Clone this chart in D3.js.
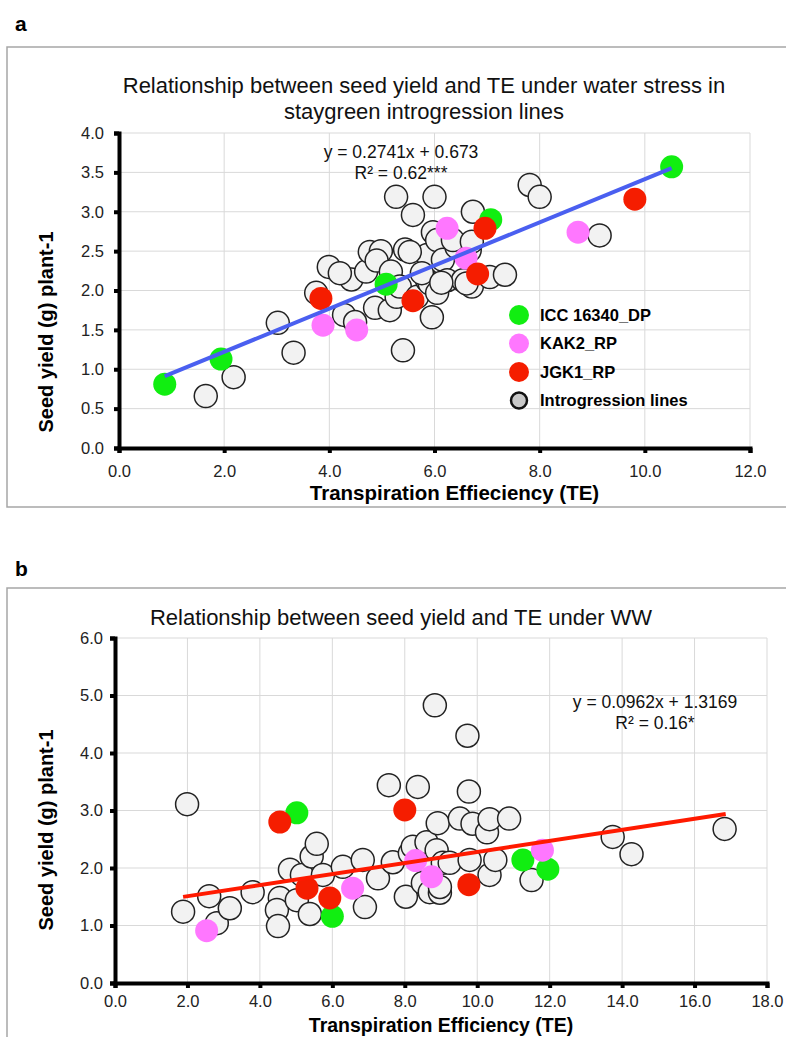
<!DOCTYPE html>
<html>
<head>
<meta charset="utf-8">
<script src="https://cdn.jsdelivr.net/npm/d3@7"></script>
<style>
  body { margin: 0; background: #fff; }
  svg { display: block; font-family: "Liberation Sans", Arial, sans-serif; }
  .grid line { stroke: #d9d9d9; stroke-width: 1; }
  .axis path { stroke: #000; stroke-width: 4; }
  .axis line { stroke: #000; stroke-width: 4; }
  .axis text { font-size: 16.5px; fill: #222; }
</style>
</head>
<body>
<div id="chart"></div>
<script>
// ---- panel a: water stress ----
const stressTicksX = [0, 2, 4, 6, 8, 10, 12];
const stressTicksY = [0, 0.5, 1, 1.5, 2, 2.5, 3, 3.5, 4];
const stressIntro = [
  [1.65, 0.66], [2.18, 0.9], [3.02, 1.59], [3.32, 1.21], [3.75, 1.97], [3.99, 2.3],
  [4.28, 1.69], [4.49, 1.6], [4.42, 2.14], [4.2, 2.22], [4.7, 2.24], [4.77, 2.49],
  [4.98, 2.5], [4.9, 2.38], [5.17, 2.24], [4.87, 1.78], [5.15, 1.75], [5.28, 1.92],
  [5.34, 2.05], [5.44, 2.52], [5.27, 3.19], [5.59, 2.96], [6.0, 3.19], [5.67, 1.92],
  [5.86, 2.13], [5.86, 2.45], [5.91, 2.09], [5.95, 1.66], [5.97, 2.74], [6.05, 2.64],
  [6.05, 1.97], [6.16, 2.39], [6.24, 2.13], [6.42, 2.55], [6.54, 2.13], [6.67, 2.51],
  [6.71, 2.05], [6.73, 3.0], [7.05, 2.17], [7.34, 2.2], [5.4, 1.24], [5.53, 2.49],
  [5.76, 2.22], [6.13, 2.1], [6.35, 2.64], [6.61, 2.09], [6.71, 2.62], [7.81, 3.34],
  [8.0, 3.19], [9.14, 2.7]
];
const stressDonor = [[0.87, 0.81], [1.94, 1.13], [5.08, 2.08], [7.07, 2.9], [10.51, 3.57]];
const stressKAK2 = [[3.88, 1.56], [4.52, 1.5], [6.24, 2.79], [6.6, 2.41], [8.73, 2.74]];
const stressJGK1 = [[3.84, 1.9], [5.59, 1.87], [6.82, 2.21], [6.96, 2.79], [9.81, 3.16]];
const stressFit = { slope: 0.2741, intercept: 0.673, from: 0.87, to: 10.51 };
const stressEq = ["y = 0.2741x + 0.673", "R\u00b2 = 0.62***"];

// ---- panel b: well watered ----
const wwTicksX = [0, 2, 4, 6, 8, 10, 12, 14, 16, 18];
const wwTicksY = [0, 1, 2, 3, 4, 5, 6];
const wwIntro = [
  [1.88, 1.24], [1.99, 3.11], [2.6, 1.51], [2.81, 1.04], [3.17, 1.3], [3.8, 1.58],
  [4.55, 1.48], [4.47, 1.27], [4.5, 0.99], [4.83, 1.97], [5.02, 1.44], [5.16, 1.88],
  [5.43, 2.2], [5.57, 2.42], [5.38, 1.2], [5.74, 1.88], [6.29, 2.02], [6.84, 2.14],
  [6.9, 1.32], [7.26, 1.82], [7.56, 3.44], [7.67, 2.1], [8.03, 1.5], [8.14, 2.26],
  [8.22, 2.37], [8.36, 3.41], [8.47, 2.14], [8.5, 1.74], [8.6, 2.45], [8.69, 1.58],
  [8.83, 4.83], [8.88, 2.31], [8.91, 2.78], [8.97, 1.57], [8.97, 1.67], [9.05, 2.09],
  [9.24, 2.09], [9.52, 2.86], [9.73, 4.3], [9.77, 3.33], [9.79, 2.14], [9.87, 2.77],
  [10.27, 2.62], [10.34, 2.85], [10.34, 1.88], [10.5, 2.14], [10.88, 2.86], [11.5, 1.79],
  [13.74, 2.54], [14.26, 2.24], [16.83, 2.68]
];
const wwDonor = [[5.02, 2.96], [6.0, 1.16], [11.26, 2.14], [11.95, 1.98]];
const wwKAK2 = [[2.53, 0.91], [6.56, 1.65], [8.3, 2.13], [8.74, 1.85], [11.8, 2.31]];
const wwJGK1 = [[4.55, 2.8], [5.3, 1.65], [5.93, 1.48], [8.0, 3.01], [9.77, 1.71]];
const wwFit = { slope: 0.0962, intercept: 1.3169, from: 1.88, to: 16.86 };
const wwEq = ["y = 0.0962x + 1.3169", "R\u00b2 = 0.16*"];

const legendNames = ["ICC 16340_DP", "KAK2_RP", "JGK1_RP", "Introgression lines"];

const svg = d3.select("#chart").append("svg")
  .attr("width", 786)
  .attr("height", 1037);

const markStyles = {
  intro: { fill: "#f2f2f2", stroke: "#222", width: 1.5 },
  donor: { fill: "#11ee11", stroke: "none", width: 0 },
  kak2: { fill: "#ff77ff", stroke: "none", width: 0 },
  jgk1: { fill: "#f51d00", stroke: "none", width: 0 },
};

function drawPanel(opts) {
  const g = svg.append("g");

  // frame
  g.append("rect")
    .attr("x", 7).attr("y", opts.frameTop)
    .attr("width", 790).attr("height", opts.frameHeight)
    .attr("fill", "none").attr("stroke", "#a6a6a6").attr("stroke-width", 1.5);

  g.append("text")
    .attr("x", 15).attr("y", opts.labelY)
    .style("font-size", "21px").style("font-weight", "bold")
    .text(opts.label);

  const x = d3.scaleLinear().domain(opts.xDomain).range([opts.left, opts.right]);
  const y = d3.scaleLinear().domain(opts.yDomain).range([opts.bottom, opts.top]);

  // gridlines
  const grid = g.append("g").attr("class", "grid");
  grid.selectAll("line.v").data(opts.ticksX.slice(1)).join("line")
    .attr("class", "v")
    .attr("x1", d => x(d)).attr("x2", d => x(d))
    .attr("y1", opts.top).attr("y2", opts.bottom);
  grid.selectAll("line.h").data(opts.ticksY.slice(1)).join("line")
    .attr("class", "h")
    .attr("y1", d => y(d)).attr("y2", d => y(d))
    .attr("x1", opts.left).attr("x2", opts.right);

  // axes
  g.append("g")
    .attr("class", "axis")
    .attr("transform", `translate(0,${opts.bottom})`)
    .call(d3.axisBottom(x).tickValues(opts.ticksX).tickFormat(d3.format(".1f")).tickSize(5).tickSizeOuter(5).tickPadding(opts.xPad));
  g.append("g")
    .attr("class", "axis")
    .attr("transform", `translate(${opts.left},0)`)
    .call(d3.axisLeft(y).tickValues(opts.ticksY).tickFormat(d3.format(".1f")).tickSize(5).tickSizeOuter(5).tickPadding(opts.yPad));

  // titles
  g.append("g").selectAll("text").data(opts.title).join("text")
    .attr("x", opts.titleX)
    .attr("y", (d, i) => opts.titleY + i * 26)
    .attr("text-anchor", "middle")
    .style("font-size", "22px")
    .style("fill", "#111")
    .text(d => d);

  g.append("text")
    .attr("x", (opts.left + opts.right) / 2 + opts.xTitleShift)
    .attr("y", opts.xTitleY)
    .attr("text-anchor", "middle")
    .style("font-size", opts.xTitleSize).style("font-weight", "bold")
    .text(opts.xTitle);

  g.append("text")
    .attr("transform", `translate(53,${opts.yTitleY}) rotate(-90)`)
    .attr("text-anchor", "middle")
    .style("font-size", "20px").style("font-weight", "bold")
    .text("Seed yield (g) plant-1");

  // points
  const series = [
    { data: opts.intro, style: markStyles.intro },
    { data: opts.donor, style: markStyles.donor },
    { data: opts.kak2, style: markStyles.kak2 },
    { data: opts.jgk1, style: markStyles.jgk1 },
  ];
  series.forEach(s => {
    g.append("g").selectAll("circle").data(s.data).join("circle")
      .attr("cx", d => x(d[0]))
      .attr("cy", d => y(d[1]))
      .attr("r", opts.radius)
      .attr("fill", s.style.fill)
      .attr("stroke", s.style.stroke)
      .attr("stroke-width", s.style.width);
  });

  // trend line
  const fit = opts.fit;
  const line = d3.line().x(d => x(d)).y(d => y(fit.slope * d + fit.intercept));
  g.append("path")
    .attr("d", line([fit.from, fit.to]))
    .attr("stroke", opts.fitColor)
    .attr("stroke-width", 4)
    .attr("fill", "none");

  // equation
  g.append("g").selectAll("text").data(opts.eq).join("text")
    .attr("x", opts.eqX)
    .attr("y", (d, i) => opts.eqY + i * 21)
    .attr("text-anchor", "middle")
    .style("font-size", "17.5px")
    .style("fill", "#111")
    .text(d => d);

  return { g, x, y };
}

drawPanel({
  label: "a", labelY: 31, frameTop: 47, frameHeight: 460,
  left: 119, right: 750, top: 133, bottom: 448,
  xDomain: [0, 12], yDomain: [0, 4],
  ticksX: stressTicksX, ticksY: stressTicksY, xPad: 12, yPad: 10,
  title: ["Relationship between seed yield and TE under water stress in", "staygreen introgression lines"],
  titleX: 424, titleY: 93,
  xTitle: "Transpiration Effieciency (TE)", xTitleSize: "20.5px",
  xTitleShift: 20, xTitleY: 500, yTitleY: 332,
  intro: stressIntro, donor: stressDonor, kak2: stressKAK2, jgk1: stressJGK1,
  radius: 11.5,
  fit: stressFit, fitColor: "#4a5ff0",
  eq: stressEq, eqX: 401, eqY: 158,
});

// legend for panel a
const legendStyles = [
  { fill: markStyles.donor.fill, stroke: "none", width: 0, r: 10 },
  { fill: markStyles.kak2.fill, stroke: "none", width: 0, r: 10 },
  { fill: markStyles.jgk1.fill, stroke: "none", width: 0, r: 10 },
  { fill: "#c8c8c8", stroke: "#111", width: 2.5, r: 8 },
];
const legend = svg.append("g").attr("transform", "translate(519,315)");
const rows = legend.selectAll("g").data(legendNames).join("g")
  .attr("transform", (d, i) => `translate(0,${i * 28.5})`);
rows.append("circle")
  .attr("r", (d, i) => legendStyles[i].r)
  .attr("fill", (d, i) => legendStyles[i].fill)
  .attr("stroke", (d, i) => legendStyles[i].stroke)
  .attr("stroke-width", (d, i) => legendStyles[i].width);
rows.append("text")
  .attr("x", 21).attr("dy", "0.35em")
  .style("font-size", "16.5px").style("font-weight", "bold")
  .text(d => d);

drawPanel({
  label: "b", labelY: 576, frameTop: 588, frameHeight: 470,
  left: 115, right: 767, top: 638, bottom: 983,
  xDomain: [0, 18], yDomain: [0, 6],
  ticksX: wwTicksX, ticksY: wwTicksY, xPad: 7, yPad: 7,
  title: ["Relationship between seed yield and TE under WW"],
  titleX: 401, titleY: 625,
  xTitle: "Transpiration Efficiency (TE)", xTitleSize: "19.5px",
  xTitleShift: 0, xTitleY: 1032, yTitleY: 830,
  intro: wwIntro, donor: wwDonor, kak2: wwKAK2, jgk1: wwJGK1,
  radius: 11.5,
  fit: wwFit, fitColor: "#ff1a00",
  eq: wwEq, eqX: 655, eqY: 708,
});
</script>
</body>
</html>
